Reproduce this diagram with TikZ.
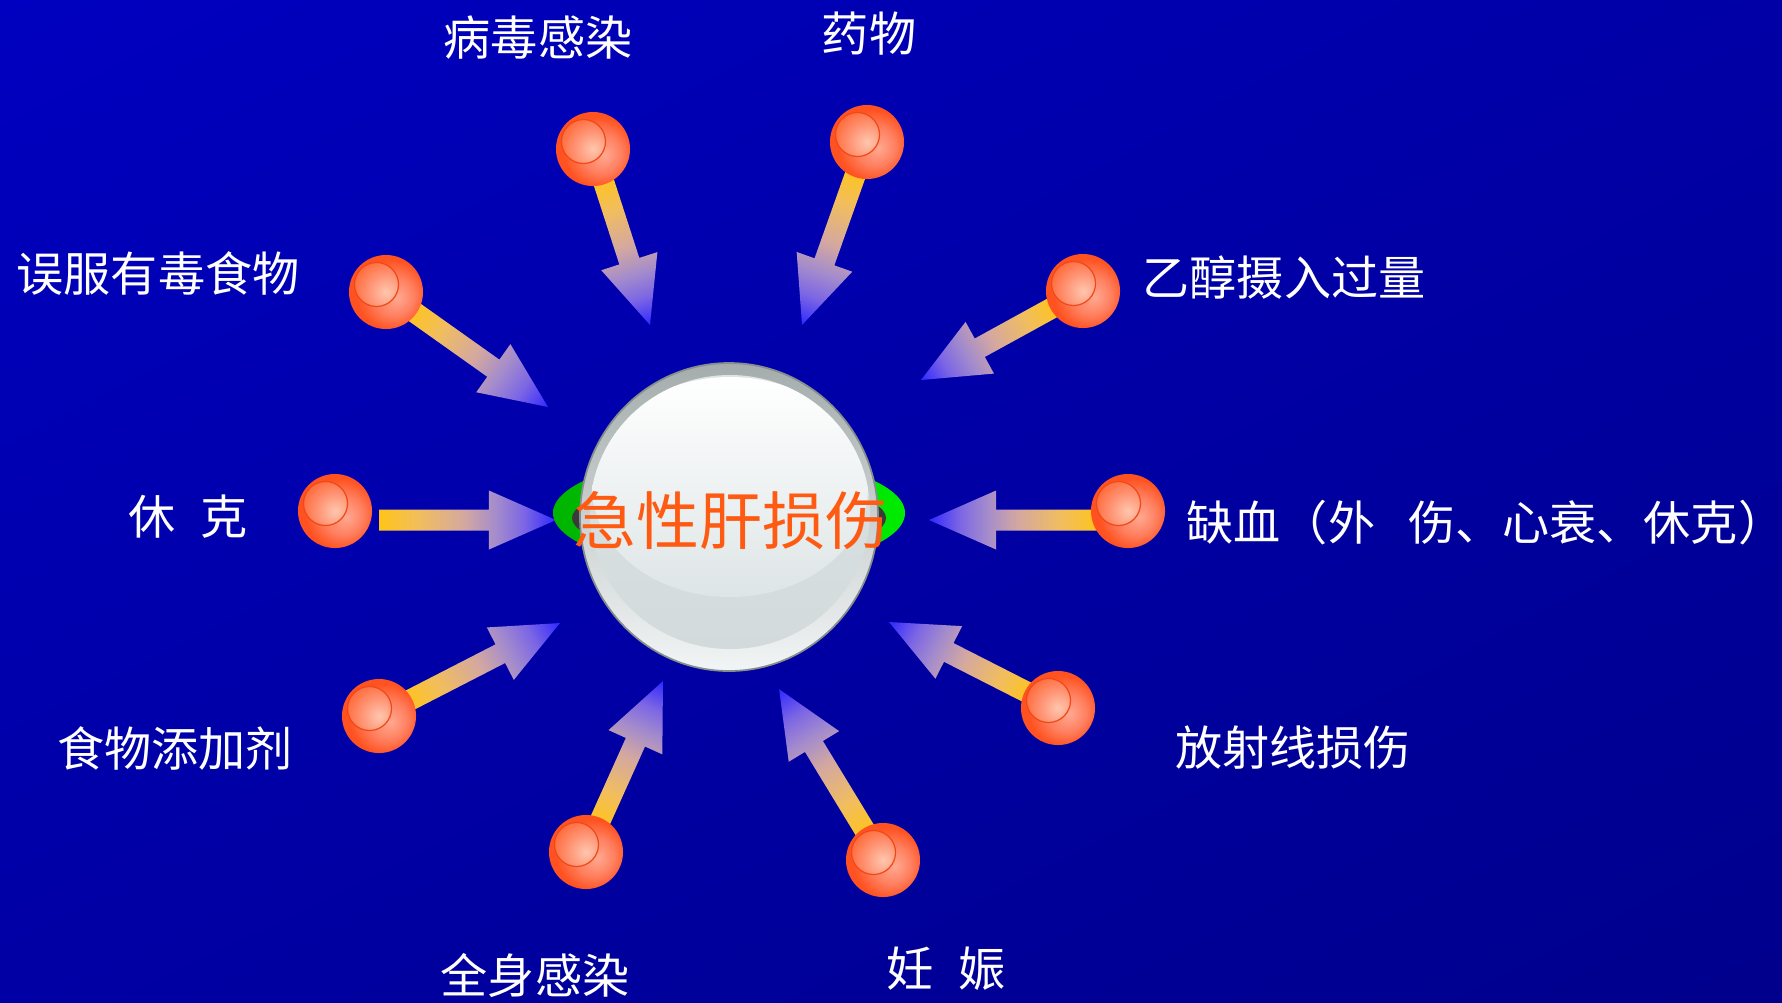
\documentclass[tikz,border=0pt]{standalone}
\usepackage{fontspec}
\newfontfamily\cjk{Noto Sans CJK SC}
\usetikzlibrary{calc,shadings}

% palette
\definecolor{bgTL}{HTML}{0000C0}
\definecolor{bgTR}{HTML}{0000A6}
\definecolor{bgBL}{HTML}{0000A4}
\definecolor{bgBR}{HTML}{00008C}
\definecolor{arY}{HTML}{FFC418}
\definecolor{arY2}{HTML}{F2BE5C}
\definecolor{arP}{HTML}{D4A8A0}
\definecolor{arL}{HTML}{A48CCC}
\definecolor{arV}{HTML}{7C66E4}
\definecolor{arB}{HTML}{3028FF}
\definecolor{ballL}{HTML}{FFA890}
\definecolor{ballM}{HTML}{FF8060}
\definecolor{ballD}{HTML}{FF5220}
\definecolor{ballIc}{HTML}{FFC6AE}
\definecolor{ballIm}{HTML}{FF9474}
\definecolor{ballIe}{HTML}{FF6432}
\definecolor{ballRim}{HTML}{EE4A18}
\definecolor{lensA}{HTML}{00B400}
\definecolor{lensB}{HTML}{00EC00}
\definecolor{ringDark}{HTML}{3A3A3A}
\definecolor{rimTop}{HTML}{A4ACAC}
\definecolor{rimBot}{HTML}{F2F5F5}
\definecolor{rimLine}{HTML}{858D8D}
\definecolor{bodyA}{HTML}{DDE4E5}
\definecolor{bodyB}{HTML}{D2DADB}
\definecolor{hiB}{HTML}{DEE5E6}
\definecolor{titleRed}{HTML}{FF5A12}

% shadings
\pgfdeclarehorizontalshading{arrowgrad}{100bp}{color(0bp)=(arY); color(25bp)=(arY); color(36bp)=(arY2); color(49bp)=(arP); color(58bp)=(arL); color(66bp)=(arV); color(75bp)=(arB); color(100bp)=(arB)}
\pgfdeclareradialshading{ballout}{\pgfpoint{8bp}{-4bp}}{color(0bp)=(ballL); color(13bp)=(ballM); color(24bp)=(ballD); color(50bp)=(ballD)}
\pgfdeclareradialshading{ballin}{\pgfpoint{0bp}{0bp}}{color(0bp)=(ballIc); color(12bp)=(ballIm); color(25bp)=(ballIe); color(50bp)=(ballIe)}

\pgfdeclarelayer{backdrop}
\pgfdeclarelayer{shafts}
\pgfsetlayers{backdrop,shafts,main}

% arrow with a colour gradient running from #1 to #2, body starting #3 pt from #1
\newcommand\gradarrow[3]{%
  \path let \p1=(#1), \p2=(#2) in \pgfextra{%
    \pgfmathsetmacro\arang{atan2(\y2-\y1,\x2-\x1)}%
    \pgfmathsetmacro\arlen{veclen(\x2-\x1,\y2-\y1)}%
    \pgfmathsetmacro\arbase{\arlen-19.06}%
    \xdef\arang{\arang}\xdef\arlen{\arlen}\xdef\arbase{\arbase}};
  \begin{scope}[transform canvas={shift={(#1)},rotate=\arang}]
    \shade[arrowbody] (#3pt,-2.99pt) -- (\arbase pt,-2.99pt) -- (\arbase pt,-8.39pt)
      -- (\arlen pt,0pt) -- (\arbase pt,8.39pt) -- (\arbase pt,2.99pt) -- (#3pt,2.99pt) -- cycle;
  \end{scope}}

\begin{document}
\begin{tikzpicture}[x=0.01cm, y=-0.01cm,
  ball/.style={circle, inner sep=0pt, minimum size=0.74cm, shade, shading=ballout,
    path picture={
      \shade[shading=ballin] ($(path picture bounding box.center)+(-0.095cm,0.075cm)$) circle (0.22cm);
      \draw[ballRim, line width=0.35pt] ($(path picture bounding box.center)+(-0.095cm,0.075cm)$) circle (0.22cm);}},
  arrowbody/.style={shading=arrowgrad},
  lbl/.style={text=white, inner sep=0pt, font=\cjk\fontsize{13.4pt}{16pt}\selectfont},
  title/.style={text=titleRed, inner sep=0pt, font=\cjk\fontsize{17.9pt}{20pt}\selectfont}]

\useasboundingbox (0,0) rectangle (1782,1002);
\begin{pgfonlayer}{backdrop}
  \shade[upper left=bgTL, upper right=bgTR, lower left=bgBL, lower right=bgBR]
    (0,0) rectangle (1782,1002);
\end{pgfonlayer}

% cause markers
\node[ball] (b1) at (593,149) {};
\node[ball] (b2) at (867,142) {};
\node[ball] (b3) at (386,292) {};
\node[ball] (b4) at (1083,291) {};
\node[ball] (b5) at (335,511) {};
\node[ball] (b6) at (1128,511) {};
\node[ball] (b7) at (379,716) {};
\node[ball] (b8) at (1058,708) {};
\node[ball] (b9) at (586,852) {};
\node[ball] (b10) at (883,860) {};

% arrow tips and detached starts
\coordinate (t1) at (650,325);
\coordinate (t2) at (802,325);
\coordinate (t3) at (548,407);
\coordinate (t4) at (921,380);
\coordinate (s5) at (379,520);
\coordinate (t5) at (556,520);
\coordinate (s6) at (1100,520);
\coordinate (t6) at (929,520);
\coordinate (t7) at (560,623);
\coordinate (t8) at (889,622);
\coordinate (t9) at (663,681);
\coordinate (t10) at (779,689);

\begin{pgfonlayer}{shafts}
  \gradarrow{b1}{t1}{8}
  \gradarrow{b2}{t2}{8}
  \gradarrow{b3}{t3}{8}
  \gradarrow{b4}{t4}{8}
  \gradarrow{s5}{t5}{0}
  \gradarrow{s6}{t6}{0}
  \gradarrow{b7}{t7}{8}
  \gradarrow{b8}{t8}{8}
  \gradarrow{b9}{t9}{8}
  \gradarrow{b10}{t10}{8}
\end{pgfonlayer}

% ringed sphere in the middle
\shade[left color=lensA, right color=lensB] (729,513) ellipse [x radius=176, y radius=57];
\fill[ringDark] (729,518) ellipse [x radius=157, y radius=38];
\shade[top color=rimTop, bottom color=rimBot] (729,517) ellipse [x radius=149, y radius=154];
\draw[rimLine, line width=0.5pt] (729,517) ellipse [x radius=149, y radius=154];
\shade[top color=bodyA, bottom color=bodyB] (730,512) ellipse [x radius=140, y radius=137];
\begin{scope}
  \clip (730,512) ellipse [x radius=140, y radius=137];
  \shade[top color=white, bottom color=hiB] (730,487) ellipse [x radius=138, y radius=110];
\end{scope}
\node[title] (core) at (731,521) {急性肝损伤};

% labels
\node[lbl] (l1) at (538,38) {病毒感染};
\node[lbl] (l2) at (869,34) {药物};
\node[lbl] (l3) at (158,273) {误服有毒食物};
\node[lbl] (l4) at (1284,278) {乙醇摄入过量};
\node[lbl] (l5) at (188,517) {休\hspace{0.53em}克};
\node[lbl, anchor=west] (l6) at (1186,523) {缺血（外\hspace{0.7em}伤、心衰、休克）};
\node[lbl] (l7) at (175,748) {食物添加剂};
\node[lbl] (l8) at (1293,748) {放射线损伤};
\node[lbl] (l9) at (535,975) {全身感染};
\node[lbl] (l10) at (946,969) {妊\hspace{0.53em}娠};
\end{tikzpicture}
\end{document}
